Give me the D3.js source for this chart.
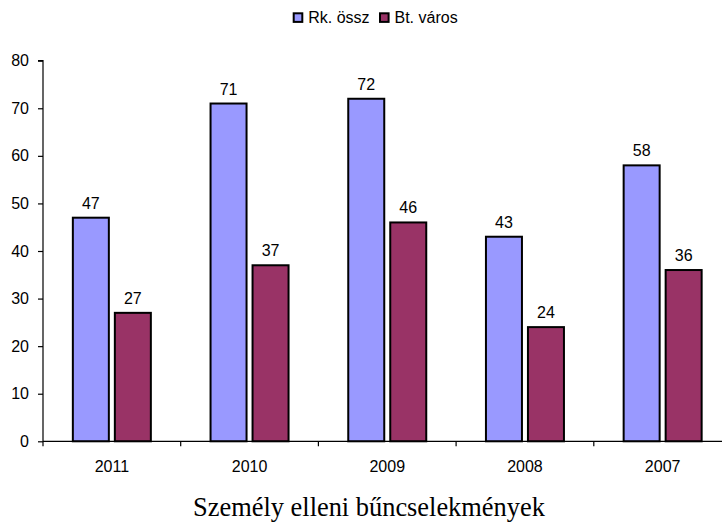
<!DOCTYPE html>
<html><head><meta charset="utf-8">
<script src="https://cdn.jsdelivr.net/npm/d3@7"></script>
<style>body{margin:0;background:#fff}svg{display:block}</style>
</head><body>
<script>
const categories = ["2011","2010","2009","2008","2007"];
const seriesNames = ["Rk. össz","Bt. város"];
const rkOssz = [47,71,72,43,58];
const btVaros = [27,37,46,24,36];
const yTicks = [0,10,20,30,40,50,60,70,80];
const colors = ["#9999FF","#993366"];
const title = "Személy elleni bűncselekmények";

const FONT="Liberation Sans, Arial, sans-serif";
const W=722,H=524;
const svg=d3.select("body").append("svg").attr("width",W).attr("height",H);
const left=43, bandW=137.7, y0=441.3, y80=60.7;
const x=d3.scaleBand().domain(categories).range([left,left+bandW*categories.length]).paddingInner(0).paddingOuter(0);
const y=d3.scaleLinear().domain([0,80]).range([y0,y80]);
const barW=36, gap=6, sw=2;
const xs=d3.scaleOrdinal().domain(seriesNames).range([0,1]);
const data=[rkOssz,btVaros];

// y axis
const ya=svg.append("g").attr("transform",`translate(${left},0)`)
 .call(d3.axisLeft(y).tickValues(yTicks).tickSize(5).tickPadding(9).tickFormat(d3.format("d")));
ya.select(".domain").attr("d",`M-5,${y80}H0V${y0}`).attr("stroke","#000").attr("stroke-width",1.2);
ya.selectAll("text").attr("font-family",FONT).attr("font-size","16px").attr("fill","#000");
ya.selectAll("line").attr("stroke","#000").attr("stroke-width",1.2);

// bars
const offset=(bandW-(2*barW+gap))/2;
seriesNames.forEach((s,si)=>{
  const g=svg.append("g");
  g.selectAll("rect").data(data[si]).join("rect")
   .attr("x",(d,i)=>x(categories[i])+offset+xs(s)*(barW+gap))
   .attr("y",d=>y(d)).attr("width",barW).attr("height",d=>y0-y(d))
   .attr("fill",colors[si]).attr("stroke","#000").attr("stroke-width",sw);
  g.selectAll("text").data(data[si]).join("text")
   .attr("x",(d,i)=>x(categories[i])+offset+xs(s)*(barW+gap)+barW/2)
   .attr("y",d=>y(d)-9).attr("text-anchor","middle")
   .attr("font-family",FONT).attr("font-size","16px").text(d=>d);
});

// x axis
const xa=svg.append("g").attr("transform",`translate(0,${y0})`);
xa.append("line").attr("x1",left).attr("x2",left+bandW*categories.length).attr("stroke","#000").attr("stroke-width",1.2);
const bounds=categories.map((c)=>x(c)).concat([left+bandW*categories.length]);
xa.selectAll("line.t").data(bounds).join("line").attr("class","t")
 .attr("x1",d=>d).attr("x2",d=>d).attr("y1",0).attr("y2",5).attr("stroke","#000").attr("stroke-width",1.2);
xa.selectAll("text").data(categories).join("text")
 .attr("x",d=>x(d)+bandW/2).attr("y",30.5).attr("text-anchor","middle")
 .attr("font-family",FONT).attr("font-size","16px").text(d=>d);

// legend
const lg=svg.append("g");
const lx=[293.7,380];
seriesNames.forEach((s,i)=>{
  lg.append("rect").attr("x",lx[i]).attr("y",13.3).attr("width",8.6).attr("height",8.6)
    .attr("fill",colors[i]).attr("stroke","#000").attr("stroke-width",2);
  lg.append("text").attr("x",lx[i]+14.5).attr("y",22.7)
    .attr("font-family",FONT).attr("font-size","16px").text(s);
});

svg.append("text").attr("x",369).attr("y",516).attr("text-anchor","middle")
 .attr("font-family","Liberation Serif, Times New Roman, serif").attr("font-size","26.4px").text(title);
</script>
</body></html>
